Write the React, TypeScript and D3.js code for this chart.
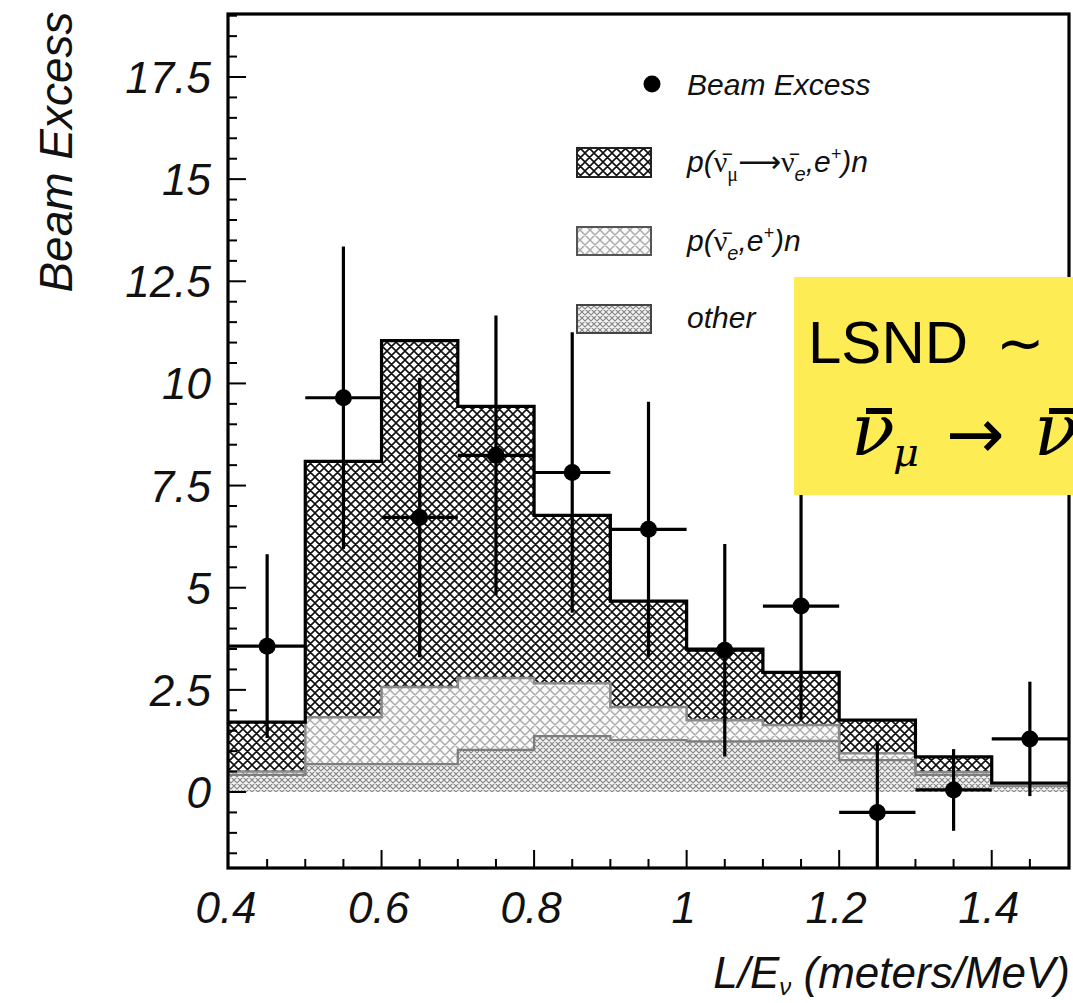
import React from "react";
import * as d3 from "d3";

// ---- data ----
const binStarts = [0.4, 0.5, 0.6, 0.7, 0.8, 0.9, 1.0, 1.1, 1.2, 1.3, 1.4];
const binWidth = 0.1;
const otherBg = [0.42, 0.68, 0.68, 1.03, 1.37, 1.27, 1.24, 1.25, 0.78, 0.42, 0.15];
const nuebarBg = [0.08, 1.15, 1.89, 1.76, 1.29, 0.81, 0.52, 0.39, 0.17, 0.07, 0.02];
const oscSignal = [1.21, 6.26, 8.48, 6.65, 4.11, 2.59, 1.74, 1.29, 0.81, 0.37, 0.05];

const pointX = [0.45, 0.55, 0.65, 0.75, 0.85, 0.95, 1.05, 1.15, 1.25, 1.35, 1.45];
const pointY = [3.57, 9.65, 6.72, 8.24, 7.82, 6.43, 3.47, 4.55, -0.5, 0.05, 1.3];
const pointErr = [2.25, 3.7, 3.42, 3.42, 3.43, 3.12, 2.6, 2.78, 1.72, 1.0, 1.4];

const yTickLabels = [0, 2.5, 5, 7.5, 10, 12.5, 15, 17.5];
const xTickLabels = [0.4, 0.6, 0.8, 1.0, 1.2, 1.4];

const SANS = "'Liberation Sans', Arial, Helvetica, sans-serif";
const SERIF = "'Liberation Serif', 'Times New Roman', serif";
const MATH = "'DejaVu Serif', 'Liberation Serif', serif";

export default function App() {
  const left = 228, right = 1069, top = 14, bottom = 868;
  const x = d3.scaleLinear().domain([0.4, 1.5]).range([229, 1068]);
  const y = d3.scaleLinear().domain([0, 17.5]).range([792, 77]);

  const lightTop = otherBg.map((v, i) => v + nuebarBg[i]);
  const totalTop = lightTop.map((v, i) => v + oscSignal[i]);

  const stepLine = (vals: number[]) => {
    const pts: [number, number][] = binStarts.map((b, i) => [b, vals[i]]);
    pts.push([binStarts[binStarts.length - 1] + binWidth, vals[vals.length - 1]]);
    return d3
      .line<[number, number]>()
      .x((d) => x(d[0]))
      .y((d) => y(d[1]))
      .curve(d3.curveStepAfter)(pts) as string;
  };

  const yMinor = d3.range(-1.5, 19.01, 0.5);
  const xMinor = d3.range(0.45, 1.5, 0.05);

  return (
    <svg
      width={1073}
      height={1003}
      style={{ position: "absolute", left: 0, top: 0, background: "#fff" }}
    >
      <defs>
        <pattern id="darkHatch" width={9} height={9} patternUnits="userSpaceOnUse">
          <rect width={9} height={9} fill="#fff" />
          <path
            d="M-1,1 L1,-1 M0,9 L9,0 M8,10 L10,8 M-1,8 L1,10 M0,0 L9,9 M8,-1 L10,1"
            stroke="#111"
            strokeWidth={1.6}
          />
        </pattern>
        <pattern id="lightHatch" width={10} height={10} patternUnits="userSpaceOnUse">
          <rect width={10} height={10} fill="#fafafa" />
          <path
            d="M-1,1 L1,-1 M0,10 L10,0 M9,11 L11,9 M-1,9 L1,11 M0,0 L10,10 M9,-1 L11,1"
            stroke="#a9a9a9"
            strokeWidth={1.4}
          />
        </pattern>
        <pattern id="otherHatch" width={6} height={6} patternUnits="userSpaceOnUse">
          <rect width={6} height={6} fill="#f2f2f2" />
          <path
            d="M-1,1 L1,-1 M0,6 L6,0 M5,7 L7,5 M-1,5 L1,7 M0,0 L6,6 M5,-1 L7,1"
            stroke="#858585"
            strokeWidth={1.15}
          />
        </pattern>
        <clipPath id="plotClip">
          <rect x={left} y={top} width={right - left} height={bottom - top} />
        </clipPath>
      </defs>

      {/* stacked histogram */}
      <g clipPath="url(#plotClip)">
        {binStarts.map((b, i) => (
          <g key={"bin" + i}>
            <rect
              x={x(b)}
              width={x(b + binWidth) - x(b)}
              y={y(otherBg[i])}
              height={y(0) - y(otherBg[i])}
              fill="url(#otherHatch)"
            />
            <rect
              x={x(b)}
              width={x(b + binWidth) - x(b)}
              y={y(lightTop[i])}
              height={y(otherBg[i]) - y(lightTop[i])}
              fill="url(#lightHatch)"
            />
            <rect
              x={x(b)}
              width={x(b + binWidth) - x(b)}
              y={y(totalTop[i])}
              height={y(lightTop[i]) - y(totalTop[i])}
              fill="url(#darkHatch)"
            />
          </g>
        ))}
        <path d={stepLine(otherBg)} fill="none" stroke="#7d7d7d" strokeWidth={2.2} />
        <path d={stepLine(lightTop)} fill="none" stroke="#8a8a8a" strokeWidth={2.6} />
        <path d={stepLine(totalTop)} fill="none" stroke="#000" strokeWidth={3.2} />

        {/* data points */}
        {pointX.map((px, i) => (
          <g key={"pt" + i} stroke="#000" strokeWidth={3.2}>
            <line x1={x(px)} x2={x(px)} y1={y(pointY[i] - pointErr[i])} y2={y(pointY[i] + pointErr[i])} />
            <line x1={x(px - binWidth / 2)} x2={x(px + binWidth / 2)} y1={y(pointY[i])} y2={y(pointY[i])} />
            <circle cx={x(px)} cy={y(pointY[i])} r={8.5} fill="#000" stroke="none" />
          </g>
        ))}
      </g>

      {/* ticks */}
      <g stroke="#000" strokeWidth={2}>
        {yMinor.map((v, i) => {
          const major = Math.abs(v / 2.5 - Math.round(v / 2.5)) < 1e-6;
          return <line key={"ym" + i} x1={left} x2={left + (major ? 18 : 9)} y1={y(v)} y2={y(v)} />;
        })}
        {xMinor.map((v, i) => {
          const major = Math.abs(v / 0.2 - Math.round(v / 0.2)) < 1e-6;
          return <line key={"xm" + i} x1={x(v)} x2={x(v)} y1={bottom} y2={bottom - (major ? 18 : 9)} />;
        })}
      </g>

      {/* frame */}
      <rect x={left} y={top} width={right - left} height={bottom - top} fill="none" stroke="#000" strokeWidth={3.2} />

      {/* tick labels */}
      <g fontFamily={SANS} fontStyle="italic" fontSize={44} fill="#111">
        {yTickLabels.map((v) => (
          <text key={"yl" + v} x={211} y={y(v) + 16} textAnchor="end">
            {d3.format("~g")(v)}
          </text>
        ))}
        {xTickLabels.map((v) => (
          <text key={"xl" + v} x={x(v) - 3} y={923} textAnchor="middle">
            {d3.format("~g")(v)}
          </text>
        ))}
      </g>

      {/* axis titles */}
      <text
        transform="translate(72,152) rotate(-90)"
        textAnchor="middle"
        fontFamily={SANS}
        fontStyle="italic"
        fontSize={46}
        fill="#111"
      >
        Beam Excess
      </text>
      <text x={1070} y={988} textAnchor="end" fontFamily={SANS} fontStyle="italic" fontSize={44} fill="#111">
        L/E
        <tspan fontSize={24} dy={7}>ν</tspan>
        <tspan dy={-7}> (meters/MeV)</tspan>
      </text>

      {/* legend */}
      <g fontFamily={SANS} fontStyle="italic" fontSize={30} fill="#111">
        <circle cx={652} cy={84} r={8.5} fill="#000" />
        <text x={687} y={95}>Beam Excess</text>

        <rect x={577} y={148} width={74} height={29} fill="url(#darkHatch)" stroke="#222" strokeWidth={2} />
        <text x={687} y={172}>
          p(
          <tspan fontFamily={SERIF} fontStyle="normal">{"ν\u0304"}</tspan>
          <tspan fontFamily={SERIF} fontStyle="normal" fontSize={20} dy={9}>μ</tspan>
          <tspan fontFamily="'DejaVu Sans', sans-serif" fontStyle="normal" fontSize={30} dy={-9}>{"⟶"}</tspan>
          <tspan fontFamily={SERIF} fontStyle="normal">{"ν\u0304"}</tspan>
          <tspan fontSize={20} dy={9}>e</tspan>
          <tspan dy={-9}>,e</tspan>
          <tspan fontSize={18} dy={-12}>+</tspan>
          <tspan dy={12}>)n</tspan>
        </text>

        <rect x={577} y={227} width={74} height={28} fill="url(#lightHatch)" stroke="#555" strokeWidth={2} />
        <text x={687} y={251}>
          p(
          <tspan fontFamily={SERIF} fontStyle="normal">{"ν\u0304"}</tspan>
          <tspan fontSize={20} dy={9}>e</tspan>
          <tspan dy={-9}>,e</tspan>
          <tspan fontSize={18} dy={-12}>+</tspan>
          <tspan dy={12}>)n</tspan>
        </text>

        <rect x={577} y={305} width={74} height={28} fill="url(#otherHatch)" stroke="#444" strokeWidth={2} />
        <text x={687} y={328}>other</text>
      </g>

      {/* yellow annotation box */}
      <rect x={794} y={277} width={279} height={218} fill="#FEEC55" />
      <text x={808} y={363} fontFamily={SANS} fontSize={60} fill="#000">
        LSND
      </text>
      <text x={996} y={363} fontFamily="'DejaVu Sans', sans-serif" fontSize={58} fill="#000">
        ∼
      </text>
      <text x={851} y={455} fontFamily={MATH} fontStyle="italic" fontSize={72} fill="#000">
        ν
      </text>
      <rect x={866} y={408} width={26} height={6} fill="#000" />
      <text x={893} y={466} fontFamily={MATH} fontStyle="italic" fontSize={40} fill="#000">
        μ
      </text>
      <text x={946} y={458} fontFamily="'DejaVu Sans', sans-serif" fontSize={70} fill="#000">
        →
      </text>
      <text x={1034} y={455} fontFamily={MATH} fontStyle="italic" fontSize={72} fill="#000">
        ν
      </text>
      <rect x={1049} y={408} width={26} height={6} fill="#000" />
    </svg>
  );
}
